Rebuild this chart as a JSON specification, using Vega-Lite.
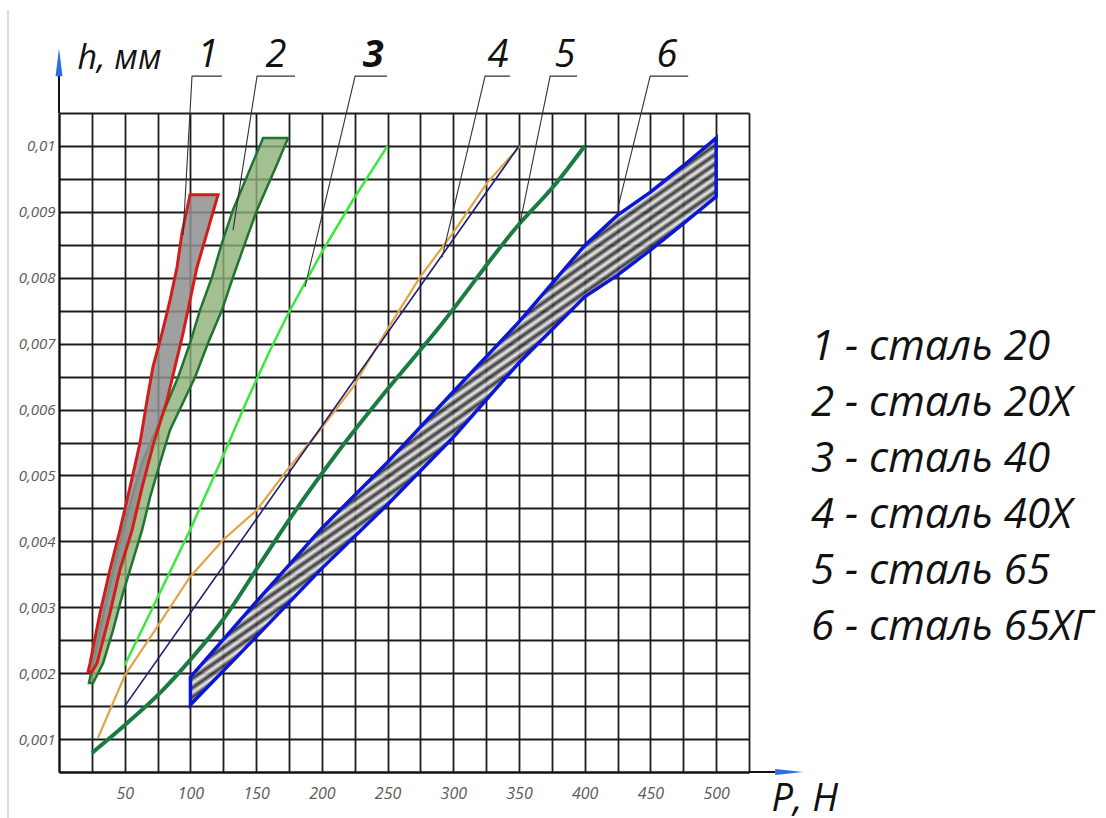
{
  "$schema": "https://vega.github.io/schema/vega-lite/v6.json",
  "width": 690,
  "height": 659,
  "autosize": "none",
  "padding": {"left": 59, "top": 113, "right": 357, "bottom": 46},
  "background": "white",
  "config": {"view": {"stroke": null}},
  "datasets": {
    "band1": [
      {"h": 0.00202, "pl": 22.1, "pr": 25.1},
      {"h": 0.00215, "pl": 23.6, "pr": 28.9},
      {"h": 0.00291, "pl": 31.2, "pr": 38.8},
      {"h": 0.00357, "pl": 38.8, "pr": 46.4},
      {"h": 0.00417, "pl": 46.4, "pr": 55.6},
      {"h": 0.00482, "pl": 54.0, "pr": 63.2},
      {"h": 0.00549, "pl": 61.6, "pr": 72.0},
      {"h": 0.00614, "pl": 67.0, "pr": 82.2},
      {"h": 0.00665, "pl": 71.5, "pr": 88.3},
      {"h": 0.00716, "pl": 78.4, "pr": 94.4},
      {"h": 0.00766, "pl": 84.5, "pr": 99.7},
      {"h": 0.00816, "pl": 89.8, "pr": 105.0},
      {"h": 0.00868, "pl": 93.6, "pr": 112.6},
      {"h": 0.00926, "pl": 99.7, "pr": 121.0}
    ],
    "band2": [
      {"h": 0.00185, "pl": 22.8, "pr": 25.9},
      {"h": 0.00215, "pl": 25.9, "pr": 33.5},
      {"h": 0.00265, "pl": 31.2, "pr": 41.1},
      {"h": 0.00316, "pl": 36.5, "pr": 47.9},
      {"h": 0.00367, "pl": 42.6, "pr": 55.6},
      {"h": 0.00417, "pl": 48.7, "pr": 63.2},
      {"h": 0.00467, "pl": 55.6, "pr": 69.3},
      {"h": 0.00519, "pl": 63.2, "pr": 76.9},
      {"h": 0.00569, "pl": 73.8, "pr": 84.5},
      {"h": 0.00649, "pl": 90.6, "pr": 103.5},
      {"h": 0.00701, "pl": 99.7, "pr": 113.4},
      {"h": 0.00751, "pl": 107.3, "pr": 124.0},
      {"h": 0.00801, "pl": 116.4, "pr": 132.4},
      {"h": 0.00853, "pl": 124.0, "pr": 141.6},
      {"h": 0.00903, "pl": 132.4, "pr": 150.7},
      {"h": 0.00968, "pl": 146.0, "pr": 165.0},
      {"h": 0.01012, "pl": 155.3, "pr": 174.3}
    ],
    "band6": [
      {"P": 100, "lo": 0.00152, "hi": 0.00194},
      {"P": 150, "lo": 0.00255, "hi": 0.00308},
      {"P": 200, "lo": 0.00359, "hi": 0.00420},
      {"P": 250, "lo": 0.00456, "hi": 0.00520},
      {"P": 300, "lo": 0.00558, "hi": 0.00627},
      {"P": 350, "lo": 0.00671, "hi": 0.00733},
      {"P": 400, "lo": 0.00771, "hi": 0.00849},
      {"P": 425, "lo": 0.00804, "hi": 0.00895},
      {"P": 450, "lo": 0.00842, "hi": 0.00930},
      {"P": 475, "lo": 0.00882, "hi": 0.00970},
      {"P": 500, "lo": 0.00923, "hi": 0.01012}
    ],
    "lines": [
      {"s": "3", "P": 50, "h": 0.00212},
      {"s": "3", "P": 75.3, "h": 0.00316},
      {"s": "3", "P": 99.7, "h": 0.00417},
      {"s": "3", "P": 122.5, "h": 0.00519},
      {"s": "3", "P": 143.1, "h": 0.00614},
      {"s": "3", "P": 160.6, "h": 0.0069},
      {"s": "3", "P": 175.8, "h": 0.00751},
      {"s": "3", "P": 200.9, "h": 0.00842},
      {"s": "3", "P": 223.7, "h": 0.00918},
      {"s": "3", "P": 250, "h": 0.0100},
      {"s": "4a", "P": 29.7, "h": 0.00102},
      {"s": "4a", "P": 50.2, "h": 0.00197},
      {"s": "4a", "P": 74.6, "h": 0.0027},
      {"s": "4a", "P": 99.7, "h": 0.00346},
      {"s": "4a", "P": 124.8, "h": 0.00402},
      {"s": "4a", "P": 150.7, "h": 0.00448},
      {"s": "4a", "P": 173.5, "h": 0.00508},
      {"s": "4a", "P": 198.6, "h": 0.00569},
      {"s": "4a", "P": 223.7, "h": 0.00634},
      {"s": "4a", "P": 249.6, "h": 0.00721},
      {"s": "4a", "P": 274.7, "h": 0.00801},
      {"s": "4a", "P": 299.8, "h": 0.00868},
      {"s": "4a", "P": 325.7, "h": 0.00944},
      {"s": "4a", "P": 350.8, "h": 0.0100},
      {"s": "4b", "P": 50, "h": 0.0015},
      {"s": "4b", "P": 350, "h": 0.0100},
      {"s": "5", "P": 25.1, "h": 0.00079},
      {"s": "5", "P": 51.7, "h": 0.00124},
      {"s": "5", "P": 76.9, "h": 0.0017},
      {"s": "5", "P": 102, "h": 0.00225},
      {"s": "5", "P": 124.8, "h": 0.00281},
      {"s": "5", "P": 153, "h": 0.00366},
      {"s": "5", "P": 173.5, "h": 0.00428},
      {"s": "5", "P": 211.6, "h": 0.00534},
      {"s": "5", "P": 249.6, "h": 0.0063},
      {"s": "5", "P": 287.7, "h": 0.00721},
      {"s": "5", "P": 350.8, "h": 0.00883},
      {"s": "5", "P": 376, "h": 0.00938},
      {"s": "5", "P": 400, "h": 0.0100}
    ],
    "leaders": [
      {"n": "1", "k": 0, "P": 124.0, "h": 0.01106},
      {"n": "1", "k": 1, "P": 101.2, "h": 0.01106},
      {"n": "1", "k": 2, "P": 94.4, "h": 0.00865},
      {"n": "2", "k": 0, "P": 179.6, "h": 0.01106},
      {"n": "2", "k": 1, "P": 150.7, "h": 0.01106},
      {"n": "2", "k": 2, "P": 132.4, "h": 0.00872},
      {"n": "3", "k": 0, "P": 249.6, "h": 0.01106},
      {"n": "3", "k": 1, "P": 225.3, "h": 0.01106},
      {"n": "3", "k": 2, "P": 187.2, "h": 0.00786},
      {"n": "4", "k": 0, "P": 343.2, "h": 0.01106},
      {"n": "4", "k": 1, "P": 324.2, "h": 0.01106},
      {"n": "4", "k": 2, "P": 291.5, "h": 0.00831},
      {"n": "5", "k": 0, "P": 394.2, "h": 0.01106},
      {"n": "5", "k": 1, "P": 373.7, "h": 0.01106},
      {"n": "5", "k": 2, "P": 350.8, "h": 0.00883},
      {"n": "6", "k": 0, "P": 478.7, "h": 0.01106},
      {"n": "6", "k": 1, "P": 449.8, "h": 0.01106},
      {"n": "6", "k": 2, "P": 425.4, "h": 0.00907}
    ],
    "nums": [
      {"n": "1", "P": 113.4, "h": 0.0112},
      {"n": "2", "P": 165, "h": 0.0112},
      {"n": "3", "P": 239, "h": 0.0112},
      {"n": "4", "P": 334, "h": 0.0112},
      {"n": "5", "P": 385, "h": 0.0112},
      {"n": "6", "P": 462.5, "h": 0.0112}
    ],
    "axext": [
      {"P": 0, "h": 0.0105, "P2": 0, "h2": 0.01109},
      {"P": 525, "h": 0.0005, "P2": 545, "h2": 0.0005}
    ],
    "border": [
      {"P": -38.8, "h": 0.01206, "P2": -38.8, "h2": -0.0002}
    ],
    "arrowUp": [{"P": 0, "h": 0.01127}],
    "arrowRight": [{"P": 555.6, "h": 0.0005}],
    "legend": [
      {"label": "1 - сталь 20"},
      {"label": "2 - сталь 20Х"},
      {"label": "3 - сталь 40"},
      {"label": "4 - сталь 40Х"},
      {"label": "5 - сталь 65"},
      {"label": "6 - сталь 65ХГ"}
    ]
  },
  "layer": [
    {
      "data": {"name": "band2"},
      "mark": {"type": "area", "orient": "horizontal", "fill": "#8db077", "fillOpacity": 0.8, "stroke": "#1f7530", "strokeWidth": 2.5},
      "encoding": {
        "y": {
          "field": "h", "type": "quantitative",
          "scale": {"domain": [0.0005, 0.0105], "nice": false, "zero": false},
          "axis": {
            "values": [0.0005, 0.001, 0.0015, 0.002, 0.0025, 0.003, 0.0035, 0.004, 0.0045, 0.005, 0.0055, 0.006, 0.0065, 0.007, 0.0075, 0.008, 0.0085, 0.009, 0.0095, 0.01, 0.0105],
            "tickCount": 100,
            "grid": true, "gridColor": "#1c1c1c", "gridWidth": 1.8, "gridOpacity": 1,
            "domain": true, "domainColor": "#111", "domainWidth": 2,
            "ticks": false, "labelPadding": 4,
            "labelFont": "Open Sans", "labelFontStyle": "italic", "labelFontSize": 15, "labelColor": "#5a5a5a",
            "labelExpr": "abs(datum.value*1000 - round(datum.value*1000)) < 0.01 ? replace(format(datum.value, '~g'), '.', ',') : ''",
            "labelOverlap": false, "labelFlush": false,
            "title": "h, мм", "titleAngle": 0, "titleX": 18, "titleY": -45, "titleAlign": "left", "titleBaseline": "alphabetic",
            "titleFont": "Open Sans", "titleFontStyle": "italic", "titleFontWeight": "normal", "titleFontSize": 34, "titleColor": "#111"
          }
        },
        "x": {
          "field": "pl", "type": "quantitative",
          "scale": {"domain": [0, 525], "nice": false, "zero": false},
          "axis": {
            "values": [0, 25, 50, 75, 100, 125, 150, 175, 200, 225, 250, 275, 300, 325, 350, 375, 400, 425, 450, 475, 500, 525],
            "tickCount": 100,
            "grid": true, "gridColor": "#1c1c1c", "gridWidth": 1.8, "gridOpacity": 1,
            "domain": true, "domainColor": "#111", "domainWidth": 2,
            "ticks": false, "labelPadding": 13,
            "labelFont": "Open Sans", "labelFontStyle": "italic", "labelFontSize": 16, "labelColor": "#5a5a5a",
            "labelExpr": "datum.value % 50 == 0 && datum.value > 0 ? datum.label : ''",
            "labelOverlap": false, "labelFlush": false,
            "title": "P, Н", "titleAngle": 0, "titleX": 712, "titleY": 38, "titleAlign": "left", "titleBaseline": "alphabetic",
            "titleFont": "Open Sans", "titleFontStyle": "italic", "titleFontWeight": "normal", "titleFontSize": 38, "titleColor": "#111"
          }
        },
        "x2": {"field": "pr"}
      }
    },
    {
      "data": {"name": "band1"},
      "mark": {"type": "area", "orient": "horizontal", "fill": "#8f8f8f", "fillOpacity": 0.85, "stroke": "#d41c1c", "strokeWidth": 3},
      "encoding": {
        "y": {"field": "h", "type": "quantitative"},
        "x": {"field": "pl", "type": "quantitative"},
        "x2": {"field": "pr"}
      }
    },
    {
      "data": {"name": "band6"},
      "mark": {
        "type": "area", "orient": "vertical", "fillOpacity": 0.9, "stroke": "#0b16d6", "strokeWidth": 3.5,
        "fill": {
          "gradient": "linear", "x1": 0, "y1": 0, "x2": 0.752, "y2": 1.161,
          "stops": [
            {"offset": 0, "color": "#222"}, {"offset": 0.005, "color": "#eee"}, {"offset": 0.01, "color": "#222"}, {"offset": 0.015, "color": "#eee"},
            {"offset": 0.02, "color": "#222"}, {"offset": 0.025, "color": "#eee"}, {"offset": 0.03, "color": "#222"}, {"offset": 0.035, "color": "#eee"},
            {"offset": 0.04, "color": "#222"}, {"offset": 0.045, "color": "#eee"}, {"offset": 0.05, "color": "#222"}, {"offset": 0.055, "color": "#eee"},
            {"offset": 0.06, "color": "#222"}, {"offset": 0.065, "color": "#eee"}, {"offset": 0.07, "color": "#222"}, {"offset": 0.075, "color": "#eee"},
            {"offset": 0.08, "color": "#222"}, {"offset": 0.085, "color": "#eee"}, {"offset": 0.09, "color": "#222"}, {"offset": 0.095, "color": "#eee"},
            {"offset": 0.1, "color": "#222"}, {"offset": 0.105, "color": "#eee"}, {"offset": 0.11, "color": "#222"}, {"offset": 0.115, "color": "#eee"},
            {"offset": 0.12, "color": "#222"}, {"offset": 0.125, "color": "#eee"}, {"offset": 0.13, "color": "#222"}, {"offset": 0.135, "color": "#eee"},
            {"offset": 0.14, "color": "#222"}, {"offset": 0.145, "color": "#eee"}, {"offset": 0.15, "color": "#222"}, {"offset": 0.155, "color": "#eee"},
            {"offset": 0.16, "color": "#222"}, {"offset": 0.165, "color": "#eee"}, {"offset": 0.17, "color": "#222"}, {"offset": 0.175, "color": "#eee"},
            {"offset": 0.18, "color": "#222"}, {"offset": 0.185, "color": "#eee"}, {"offset": 0.19, "color": "#222"}, {"offset": 0.195, "color": "#eee"},
            {"offset": 0.2, "color": "#222"}, {"offset": 0.205, "color": "#eee"}, {"offset": 0.21, "color": "#222"}, {"offset": 0.215, "color": "#eee"},
            {"offset": 0.22, "color": "#222"}, {"offset": 0.225, "color": "#eee"}, {"offset": 0.23, "color": "#222"}, {"offset": 0.235, "color": "#eee"},
            {"offset": 0.24, "color": "#222"}, {"offset": 0.245, "color": "#eee"}, {"offset": 0.25, "color": "#222"}, {"offset": 0.255, "color": "#eee"},
            {"offset": 0.26, "color": "#222"}, {"offset": 0.265, "color": "#eee"}, {"offset": 0.27, "color": "#222"}, {"offset": 0.275, "color": "#eee"},
            {"offset": 0.28, "color": "#222"}, {"offset": 0.285, "color": "#eee"}, {"offset": 0.29, "color": "#222"}, {"offset": 0.295, "color": "#eee"},
            {"offset": 0.3, "color": "#222"}, {"offset": 0.305, "color": "#eee"}, {"offset": 0.31, "color": "#222"}, {"offset": 0.315, "color": "#eee"},
            {"offset": 0.32, "color": "#222"}, {"offset": 0.325, "color": "#eee"}, {"offset": 0.33, "color": "#222"}, {"offset": 0.335, "color": "#eee"},
            {"offset": 0.34, "color": "#222"}, {"offset": 0.345, "color": "#eee"}, {"offset": 0.35, "color": "#222"}, {"offset": 0.355, "color": "#eee"},
            {"offset": 0.36, "color": "#222"}, {"offset": 0.365, "color": "#eee"}, {"offset": 0.37, "color": "#222"}, {"offset": 0.375, "color": "#eee"},
            {"offset": 0.38, "color": "#222"}, {"offset": 0.385, "color": "#eee"}, {"offset": 0.39, "color": "#222"}, {"offset": 0.395, "color": "#eee"},
            {"offset": 0.4, "color": "#222"}, {"offset": 0.405, "color": "#eee"}, {"offset": 0.41, "color": "#222"}, {"offset": 0.415, "color": "#eee"},
            {"offset": 0.42, "color": "#222"}, {"offset": 0.425, "color": "#eee"}, {"offset": 0.43, "color": "#222"}, {"offset": 0.435, "color": "#eee"},
            {"offset": 0.44, "color": "#222"}, {"offset": 0.445, "color": "#eee"}, {"offset": 0.45, "color": "#222"}, {"offset": 0.455, "color": "#eee"},
            {"offset": 0.46, "color": "#222"}, {"offset": 0.465, "color": "#eee"}, {"offset": 0.47, "color": "#222"}, {"offset": 0.475, "color": "#eee"},
            {"offset": 0.48, "color": "#222"}, {"offset": 0.485, "color": "#eee"}, {"offset": 0.49, "color": "#222"}, {"offset": 0.495, "color": "#eee"},
            {"offset": 0.5, "color": "#222"}, {"offset": 0.505, "color": "#eee"}, {"offset": 0.51, "color": "#222"}, {"offset": 0.515, "color": "#eee"},
            {"offset": 0.52, "color": "#222"}, {"offset": 0.525, "color": "#eee"}, {"offset": 0.53, "color": "#222"}, {"offset": 0.535, "color": "#eee"},
            {"offset": 0.54, "color": "#222"}, {"offset": 0.545, "color": "#eee"}, {"offset": 0.55, "color": "#222"}, {"offset": 0.555, "color": "#eee"},
            {"offset": 0.56, "color": "#222"}, {"offset": 0.565, "color": "#eee"}, {"offset": 0.57, "color": "#222"}, {"offset": 0.575, "color": "#eee"},
            {"offset": 0.58, "color": "#222"}, {"offset": 0.585, "color": "#eee"}, {"offset": 0.59, "color": "#222"}, {"offset": 0.595, "color": "#eee"},
            {"offset": 0.6, "color": "#222"}, {"offset": 0.605, "color": "#eee"}, {"offset": 0.61, "color": "#222"}, {"offset": 0.615, "color": "#eee"},
            {"offset": 0.62, "color": "#222"}, {"offset": 0.625, "color": "#eee"}, {"offset": 0.63, "color": "#222"}, {"offset": 0.635, "color": "#eee"},
            {"offset": 0.64, "color": "#222"}, {"offset": 0.645, "color": "#eee"}, {"offset": 0.65, "color": "#222"}, {"offset": 0.655, "color": "#eee"},
            {"offset": 0.66, "color": "#222"}, {"offset": 0.665, "color": "#eee"}, {"offset": 0.67, "color": "#222"}, {"offset": 0.675, "color": "#eee"},
            {"offset": 0.68, "color": "#222"}, {"offset": 0.685, "color": "#eee"}, {"offset": 0.69, "color": "#222"}, {"offset": 0.695, "color": "#eee"},
            {"offset": 0.7, "color": "#222"}, {"offset": 0.705, "color": "#eee"}, {"offset": 0.71, "color": "#222"}, {"offset": 0.715, "color": "#eee"},
            {"offset": 0.72, "color": "#222"}, {"offset": 0.725, "color": "#eee"}, {"offset": 0.73, "color": "#222"}, {"offset": 0.735, "color": "#eee"},
            {"offset": 0.74, "color": "#222"}, {"offset": 0.745, "color": "#eee"}, {"offset": 0.75, "color": "#222"}, {"offset": 0.755, "color": "#eee"},
            {"offset": 0.76, "color": "#222"}, {"offset": 0.765, "color": "#eee"}, {"offset": 0.77, "color": "#222"}, {"offset": 0.775, "color": "#eee"},
            {"offset": 0.78, "color": "#222"}, {"offset": 0.785, "color": "#eee"}, {"offset": 0.79, "color": "#222"}, {"offset": 0.795, "color": "#eee"},
            {"offset": 0.8, "color": "#222"}, {"offset": 0.805, "color": "#eee"}, {"offset": 0.81, "color": "#222"}, {"offset": 0.815, "color": "#eee"},
            {"offset": 0.82, "color": "#222"}, {"offset": 0.825, "color": "#eee"}, {"offset": 0.83, "color": "#222"}, {"offset": 0.835, "color": "#eee"},
            {"offset": 0.84, "color": "#222"}, {"offset": 0.845, "color": "#eee"}, {"offset": 0.85, "color": "#222"}, {"offset": 0.855, "color": "#eee"},
            {"offset": 0.86, "color": "#222"}, {"offset": 0.865, "color": "#eee"}, {"offset": 0.87, "color": "#222"}, {"offset": 0.875, "color": "#eee"},
            {"offset": 0.88, "color": "#222"}, {"offset": 0.885, "color": "#eee"}, {"offset": 0.89, "color": "#222"}, {"offset": 0.895, "color": "#eee"},
            {"offset": 0.9, "color": "#222"}, {"offset": 0.905, "color": "#eee"}, {"offset": 0.91, "color": "#222"}, {"offset": 0.915, "color": "#eee"},
            {"offset": 0.92, "color": "#222"}, {"offset": 0.925, "color": "#eee"}, {"offset": 0.93, "color": "#222"}, {"offset": 0.935, "color": "#eee"},
            {"offset": 0.94, "color": "#222"}, {"offset": 0.945, "color": "#eee"}, {"offset": 0.95, "color": "#222"}, {"offset": 0.955, "color": "#eee"},
            {"offset": 0.96, "color": "#222"}, {"offset": 0.965, "color": "#eee"}, {"offset": 0.97, "color": "#222"}, {"offset": 0.975, "color": "#eee"},
            {"offset": 0.98, "color": "#222"}, {"offset": 0.985, "color": "#eee"}, {"offset": 0.99, "color": "#222"}, {"offset": 0.995, "color": "#eee"},
            {"offset": 1, "color": "#222"}
          ]
        }
      },
      "encoding": {
        "x": {"field": "P", "type": "quantitative"},
        "y": {"field": "lo", "type": "quantitative"},
        "y2": {"field": "hi"}
      }
    },
    {
      "data": {"name": "lines"},
      "transform": [{"filter": "datum.s == '3'"}],
      "mark": {"type": "line", "color": "#3be83b", "strokeWidth": 2.5},
      "encoding": {
        "x": {"field": "P", "type": "quantitative"},
        "y": {"field": "h", "type": "quantitative"}
      }
    },
    {
      "data": {"name": "lines"},
      "transform": [{"filter": "datum.s == '4a'"}],
      "mark": {"type": "line", "color": "#e3a445", "strokeWidth": 2.2},
      "encoding": {
        "x": {"field": "P", "type": "quantitative"},
        "y": {"field": "h", "type": "quantitative"}
      }
    },
    {
      "data": {"name": "lines"},
      "transform": [{"filter": "datum.s == '4b'"}],
      "mark": {"type": "line", "color": "#1c1c78", "strokeWidth": 1.6},
      "encoding": {
        "x": {"field": "P", "type": "quantitative"},
        "y": {"field": "h", "type": "quantitative"}
      }
    },
    {
      "data": {"name": "lines"},
      "transform": [{"filter": "datum.s == '5'"}],
      "mark": {"type": "line", "color": "#1b7c43", "strokeWidth": 4, "interpolate": "monotone"},
      "encoding": {
        "x": {"field": "P", "type": "quantitative"},
        "y": {"field": "h", "type": "quantitative"}
      }
    },
    {
      "data": {"name": "leaders"},
      "mark": {"type": "line", "color": "#333", "strokeWidth": 1.1},
      "encoding": {
        "x": {"field": "P", "type": "quantitative"},
        "y": {"field": "h", "type": "quantitative"},
        "detail": {"field": "n"},
        "order": {"field": "k", "type": "quantitative"}
      }
    },
    {
      "data": {"name": "nums"},
      "transform": [{"filter": "datum.n != '3'"}],
      "mark": {"type": "text", "font": "Open Sans", "fontStyle": "italic", "fontSize": 38, "color": "#111", "align": "center", "baseline": "alphabetic"},
      "encoding": {
        "x": {"field": "P", "type": "quantitative"},
        "y": {"field": "h", "type": "quantitative"},
        "text": {"field": "n"}
      }
    },
    {
      "data": {"name": "nums"},
      "transform": [{"filter": "datum.n == '3'"}],
      "mark": {"type": "text", "font": "Open Sans", "fontStyle": "italic", "fontWeight": "bold", "fontSize": 38, "color": "#111", "align": "center", "baseline": "alphabetic"},
      "encoding": {
        "x": {"field": "P", "type": "quantitative"},
        "y": {"field": "h", "type": "quantitative"},
        "text": {"field": "n"}
      }
    },
    {
      "data": {"name": "axext"},
      "mark": {"type": "rule", "color": "#111", "strokeWidth": 2},
      "encoding": {
        "x": {"field": "P", "type": "quantitative"},
        "y": {"field": "h", "type": "quantitative"},
        "x2": {"field": "P2"},
        "y2": {"field": "h2"}
      }
    },
    {
      "data": {"name": "border"},
      "mark": {"type": "rule", "color": "#dadada", "strokeWidth": 2},
      "encoding": {
        "x": {"field": "P", "type": "quantitative"},
        "y": {"field": "h", "type": "quantitative"},
        "x2": {"field": "P2"},
        "y2": {"field": "h2"}
      }
    },
    {
      "data": {"name": "arrowUp"},
      "mark": {"type": "point", "shape": "M0,-1L0.25,1L-0.25,1Z", "size": 784, "filled": true, "color": "#2a6fe0", "opacity": 1},
      "encoding": {
        "x": {"field": "P", "type": "quantitative"},
        "y": {"field": "h", "type": "quantitative"}
      }
    },
    {
      "data": {"name": "arrowRight"},
      "mark": {"type": "point", "shape": "M1,0L-1,0.22L-1,-0.22Z", "size": 784, "filled": true, "color": "#2a6fe0", "opacity": 1},
      "encoding": {
        "x": {"field": "P", "type": "quantitative"},
        "y": {"field": "h", "type": "quantitative"}
      }
    },
    {
      "data": {"name": "legend"},
      "mark": {"type": "point", "opacity": 0},
      "encoding": {
        "color": {
          "field": "label", "type": "nominal",
          "scale": {"domain": ["1 - сталь 20", "2 - сталь 20Х", "3 - сталь 40", "4 - сталь 40Х", "5 - сталь 65", "6 - сталь 65ХГ"], "range": ["#111", "#111", "#111", "#111", "#111", "#111"]},
          "legend": {
            "orient": "none", "legendX": 710, "legendY": 213, "title": null, "padding": 0,
            "labelFont": "Open Sans", "labelFontStyle": "italic", "labelFontSize": 42, "labelColor": "#111",
            "symbolSize": 0, "symbolStrokeWidth": 0, "symbolOpacity": 0, "labelOffset": 0, "rowPadding": 14, "labelLimit": 0
          }
        }
      }
    }
  ]
}
